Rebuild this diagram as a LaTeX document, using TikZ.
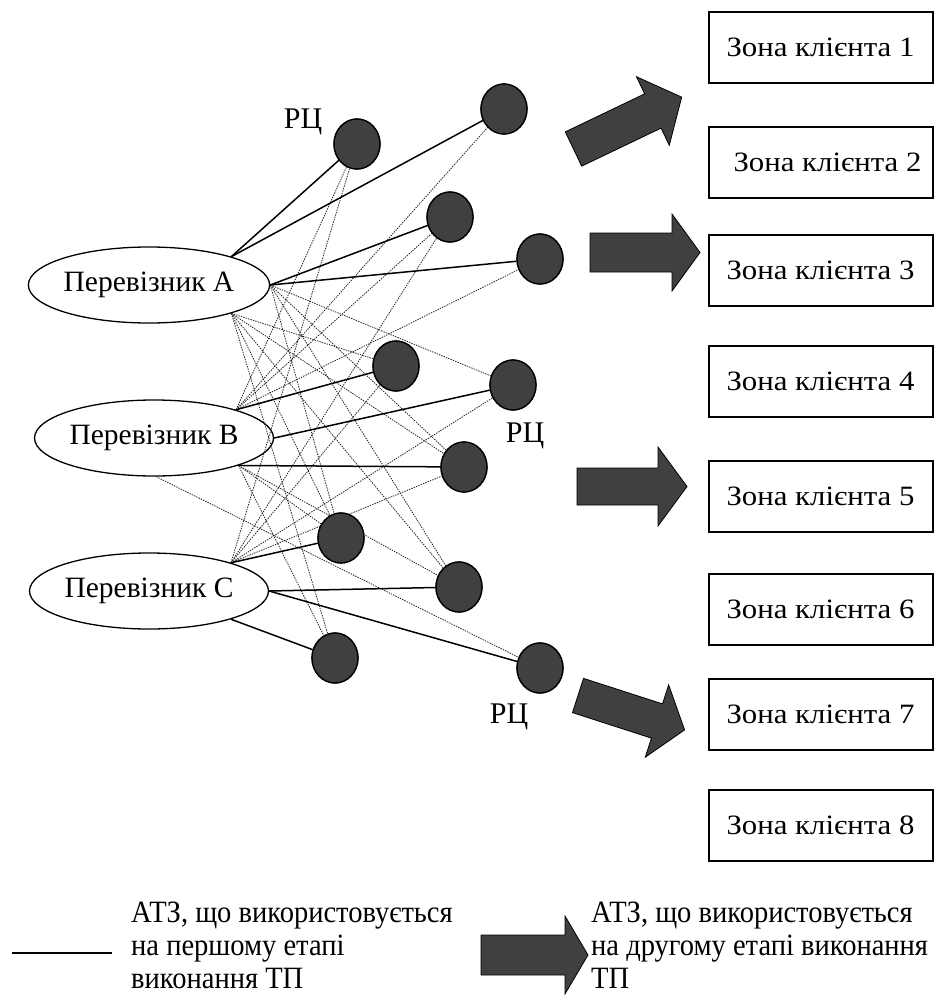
\documentclass[tikz,border=0pt]{standalone}
\usepackage{fontspec}
\setmainfont{Liberation Serif}
\newfontfamily\boxfont[FakeStretch=1.1]{Liberation Serif}
\newfontfamily\legfont[FakeStretch=0.92]{Liberation Serif}
\usetikzlibrary{shapes.geometric}
\definecolor{darkfill}{HTML}{404040}
\definecolor{dotgray}{HTML}{222222}
\newcommand{\myblockarrow}[7]{%
  \begin{scope}[shift={(#1,#2)},rotate=#3]
    \draw[blockarr] (0,-#6) -- ({#4-#5},-#6) -- ({#4-#5},-#7) -- (#4,0) -- ({#4-#5},#7) -- ({#4-#5},#6) -- (0,#6) -- cycle;
  \end{scope}}
\tikzset{
  rcnode/.style={ellipse, draw=black, line width=1.3pt, fill=darkfill, minimum width=46pt, minimum height=50pt, inner sep=0pt},
  carrier/.style={ellipse, draw=black, line width=1.3pt, fill=white, minimum width=230pt, minimum height=76pt, inner sep=0pt, font=\fontsize{29.5}{33}\selectfont},
  zone/.style={rectangle, draw=black, line width=2pt, fill=white, minimum width=224pt, minimum height=71pt, inner sep=0pt, font=\boxfont\fontsize{28}{33}\selectfont},
  solidln/.style={line width=1.5pt, black},
  dotln/.style={line width=0.8pt, dotgray, dash pattern=on 1.4pt off 1.1pt},
  blockarr/.style={draw=black, line width=0.8pt, fill=darkfill},
  lbl/.style={inner sep=0pt, font=\fontsize{30}{33}\selectfont},
  legtext/.style={inner sep=0pt, anchor=north west, align=left, font=\legfont\fontsize{31}{33}\selectfont}
}
\begin{document}
\begin{tikzpicture}[x=1pt,y=-1pt]
\useasboundingbox (0,0) rectangle (937,996);
% carriers
\node[carrier] (A) at (149,285) {Перевізник А};
\node[carrier] (B) at (154,438) {Перевізник В};
\node[carrier] (C) at (149,591) {Перевізник С};
% distribution centres
\node[rcnode] (c1) at (357,144) {};
\node[rcnode] (c2) at (504,109) {};
\node[rcnode] (c3) at (450,217) {};
\node[rcnode] (c4) at (540,259) {};
\node[rcnode] (c5) at (396,366) {};
\node[rcnode] (c6) at (513,385) {};
\node[rcnode] (c7) at (464,467) {};
\node[rcnode] (c8) at (341,538) {};
\node[rcnode] (c9) at (459,587) {};
\node[rcnode] (c10) at (335,658) {};
\node[rcnode] (c11) at (540,668) {};
\node[lbl] (l1) at (303,122) {РЦ};
\node[lbl] (l2) at (525,436) {РЦ};
\node[lbl] (l3) at (509,717) {РЦ};
% fan points
\coordinate (Aup) at (A.19);
\coordinate (Atip) at (A.east);
\coordinate (Alo) at (A.-19);
\coordinate (Bup) at (B.19);
\coordinate (Btip) at (B.east);
\coordinate (Blo) at (B.-18);
\coordinate (Bbot) at (B.-87);
\coordinate (Cup) at (C.19);
\coordinate (Ctip) at (C.east);
\coordinate (Clo) at (C.-19);
% dotted (alternative) links
\foreach \t in {c5,c7,c8,c9,c10} \draw[dotln] (Alo) -- (\t);
\foreach \t in {c6,c7,c8,c9} \draw[dotln] (Atip) -- (\t);
\foreach \t in {c1,c2,c3,c4} \draw[dotln] (Bup) -- (\t);
\foreach \t in {c8,c9,c10} \draw[dotln] (Blo) -- (\t);
\draw[dotln] (Bbot) -- (c11);
\foreach \t in {c1,c3,c5,c6,c7} \draw[dotln] (Cup) -- (\t);
% solid links
\draw[solidln] (Aup) -- (c1);
\draw[solidln] (Aup) -- (c2);
\draw[solidln] (Atip) -- (c3);
\draw[solidln] (Atip) -- (c4);
\draw[solidln] (Bup) -- (c5);
\draw[solidln] (Btip) -- (c6);
\draw[solidln] (Blo) -- (c7);
\draw[solidln] (Cup) -- (c8);
\draw[solidln] (Ctip) -- (c9);
\draw[solidln] (Ctip) -- (c11);
\draw[solidln] (Clo) -- (c10);
% redraw circles on top of the links
\foreach \x/\y in {357/144,504/109,450/217,540/259,396/366,513/385,464/467,341/538,459/587,335/658,540/668}
  \node[rcnode] at (\x,\y) {};
% zones
\node[zone] (z1) at (820.5,47.5) {Зона клієнта 1};
\node[zone] (z2) at (820.5,162) {\hspace{14pt}Зона клієнта 2};
\node[zone] (z3) at (820.5,270.5) {Зона клієнта 3};
\node[zone] (z4) at (820.5,381) {Зона клієнта 4};
\node[zone] (z5) at (820.5,496) {Зона клієнта 5};
\node[zone] (z6) at (820.5,609.5) {Зона клієнта 6};
\node[zone] (z7) at (820.5,714.5) {Зона клієнта 7};
\node[zone] (z8) at (820.5,825) {Зона клієнта 8};
% block arrows
\myblockarrow{573.5}{149}{25.6}{120}{32}{19}{38}
\myblockarrow{590}{252.5}{0}{110}{28}{19.5}{38.5}
\myblockarrow{577}{486.5}{0}{110}{29}{18.5}{39.5}
\myblockarrow{578}{695.5}{-17.9}{112}{29}{18}{38}
% legend
\coordinate (lg1) at (12,953);
\coordinate (lg2) at (112,953);
\draw[solidln] (lg1) -- (lg2);
\node[legtext] (t1) at (131,902) {АТЗ, що використовується\\на першому етапі\\виконання ТП};
\myblockarrow{481}{955}{0}{107}{23}{20}{39}
\node[legtext] (t2) at (591,902) {АТЗ, що використовується\\на другому етапі виконання\\ТП};
\end{tikzpicture}
\end{document}
